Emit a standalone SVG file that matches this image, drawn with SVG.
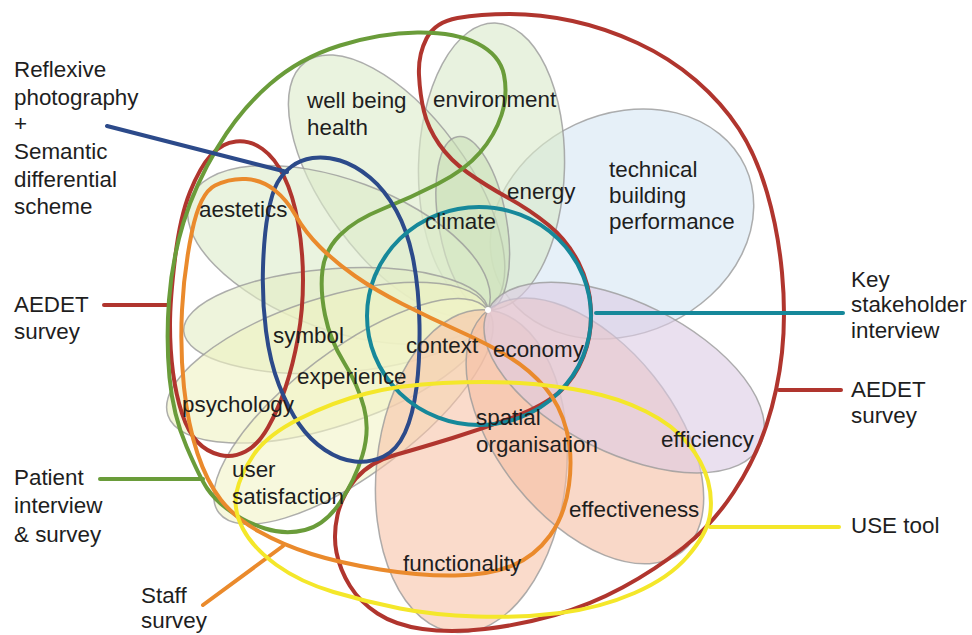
<svg xmlns="http://www.w3.org/2000/svg" width="972" height="635" viewBox="0 0 972 635">
<style>
.petal{stroke:#9a9a9a;stroke-width:1.5;stroke-opacity:0.8;fill-opacity:0.6}
.lbl{font-family:"Liberation Sans",Arial,sans-serif;font-size:22.4px;fill:#1e1e1e}
.loop{fill:none;stroke-width:4;stroke-linejoin:round;stroke-linecap:round}
.red{stroke:#b0352e}
.green{stroke:#6a9c3a}
.blue{stroke:#2c4a8a}
.teal{stroke:#16889a}
.orange{stroke:#ea8a2c}
.yellow{stroke:#f4e72a}
</style>
<rect width="972" height="635" fill="#ffffff"/>
<g id="petals">
  <g id="petal-technical"><ellipse class="petal" cx="0" cy="0" rx="136" ry="110" fill="#d6e6f4" transform="translate(622,224) rotate(-25)"/></g>
  <g id="petal-environment"><ellipse class="petal" cx="143.5" cy="0" rx="143.5" ry="73" fill="#d9e9ca" transform="translate(488,310) rotate(-88.6)"/></g>
  <g id="petal-wellbeing"><ellipse class="petal" cx="154" cy="0" rx="154" ry="72" fill="#dcebca" transform="translate(488,310) rotate(-126.4)"/></g>
  <g id="petal-climate"><ellipse class="petal" cx="88" cy="0" rx="88" ry="34" fill="#c9e0b8" transform="translate(488,310) rotate(-100)"/></g>
  <g id="petal-aestetics"><ellipse class="petal" cx="159" cy="0" rx="159" ry="75" fill="#dcebca" transform="translate(488,310) rotate(-159.7)"/></g>
  <g id="petal-symbol"><ellipse class="petal" cx="152.5" cy="0" rx="152.5" ry="52" fill="#e2ecc4" transform="translate(488,310) rotate(176)"/></g>
  <g id="petal-psychology"><ellipse class="petal" cx="168.5" cy="0" rx="168.5" ry="64" fill="#eef2c2" transform="translate(488,310) rotate(161.8)"/></g>
  <g id="petal-usersatisfaction"><ellipse class="petal" cx="168.5" cy="0" rx="168.5" ry="62" fill="#f2f4c6" transform="translate(488,310) rotate(143)"/></g>
  <g id="petal-functionality"><ellipse class="petal" cx="162" cy="0" rx="162" ry="95" fill="#f7c3a8" transform="translate(488,310) rotate(95.9)"/></g>
  <g id="petal-effectiveness"><ellipse class="petal" cx="155" cy="0" rx="155" ry="88" fill="#f5bea4" transform="translate(488,310) rotate(51.3)"/></g>
  <g id="petal-efficiency"><ellipse class="petal" cx="152" cy="0" rx="152" ry="75" fill="#dccbe4" transform="translate(488,310) rotate(26.4)"/></g>
  <circle cx="488" cy="310" r="3" fill="#ffffff"/>
</g>
<g id="connectors">
  <g id="loop-red-outer">
    <path class="loop red" d="M424,111.5 Q420,95 419,75 Q418,55 426.5,38.5 Q435,22 457.5,18 Q480,14 510,14 Q540,14 572.5,21 Q605,28 637.5,43 Q670,58 696,80.5 Q722,103 739,129 Q756,155 767,192.5 Q778,230 782,272.5 Q786,315 782,352.5 Q778,390 766.5,425 Q755,460 733.5,492.5 Q712,525 683.5,547.5 Q655,570 622.5,587.5 Q590,605 555,615 Q520,625 485,629 Q450,633 422.5,629 Q395,625 377.5,613.5 Q360,602 350,586 Q340,570 336.5,552.5 Q333,535 337.5,515 Q342,495 356,478.5 Q370,462 395,455 Q420,448 452.5,438 Q485,428 515,416.5 Q545,405 560,391.5 Q575,378 583.5,356.5 Q592,335 591,310 Q590,285 578.5,262.5 Q567,240 548.5,225 Q530,210 507.5,197.5 Q485,185 467.5,172.5 Q450,160 439,144 Q428,128 424,111.5 Z"/>
    <line class="loop red" x1="779" y1="390" x2="841" y2="390"/>
  </g>
  <g id="loop-red-left">
    <path class="loop red" d="M170,325 Q170,300 175,258.5 Q180,217 190,192 Q200,167 211,155 Q222,143 236,141.5 Q250,140 262.5,149 Q275,158 284,176.5 Q293,195 298,222.5 Q303,250 303,280 Q303,310 298,337.5 Q293,365 285.5,387.5 Q278,410 268,427.5 Q258,445 245.5,451.5 Q233,458 220,455 Q207,452 197.5,442 Q188,432 182,413.5 Q176,395 173,372.5 Q170,350 170,325 Z"/>
    <line class="loop red" x1="104" y1="305" x2="170" y2="305"/>
  </g>
  <g id="loop-green">
    <path class="loop green" d="M207.5,489 Q200,478 186.5,446.5 Q173,415 169.5,377.5 Q166,340 169,300 Q172,260 183.5,222.5 Q195,185 217.5,147.5 Q240,110 270,84 Q300,58 340,45.5 Q380,33 417.5,32.5 Q455,32 477.5,43.5 Q500,55 504,75 Q508,95 501.5,115 Q495,135 480,152.5 Q465,170 437.5,184 Q410,198 382.5,209 Q355,220 340,235 Q325,250 322.5,270 Q320,290 325,315 Q330,340 344,362.5 Q358,385 364,407.5 Q370,430 362.5,455 Q355,480 340,502.5 Q325,525 305,530 Q285,535 265,528.5 Q245,522 230,511 Q215,500 207.5,489 Z"/>
    <line class="loop green" x1="100" y1="479" x2="203" y2="479"/>
  </g>
  <g id="loop-blue">
    <path class="loop blue" d="M277.5,182.5 Q283,173 291.5,166.5 Q300,160 312.5,158 Q325,156 340,160.5 Q355,165 370,177.5 Q385,190 396.5,211 Q408,232 413.5,261 Q419,290 419.5,325 Q420,360 416.5,387.5 Q413,415 405,432.5 Q397,450 383.5,456.5 Q370,463 355,461.5 Q340,460 325,450 Q310,440 299,424 Q288,408 279,385 Q270,362 266,331 Q262,300 263,267.5 Q264,235 268,213.5 Q272,192 277.5,182.5 Z"/>
    <line class="loop blue" x1="107" y1="126" x2="287" y2="172"/>
  </g>
  <g id="loop-teal">
    <ellipse class="loop teal" cx="479" cy="316" rx="112" ry="109"/>
    <line class="loop teal" x1="596" y1="313" x2="843" y2="313"/>
  </g>
  <g id="loop-orange">
    <path class="loop orange" d="M192,231.5 Q200,193 215,185.5 Q230,178 246,179 Q262,180 274.5,190 Q287,200 296,216 Q305,232 320,247 Q335,262 355,276 Q375,290 402.5,304 Q430,318 460,331.5 Q490,345 510,357.5 Q530,370 545,387.5 Q560,405 566.5,430 Q573,455 569,485 Q565,515 550,535.5 Q535,556 512.5,565.5 Q490,575 455,575.5 Q420,576 380,569.5 Q340,563 311.5,554 Q283,545 259,531.5 Q235,518 221,500 Q207,482 197.5,453.5 Q188,425 184,387.5 Q180,350 182,310 Q184,270 192,231.5 Z"/>
    <line class="loop orange" x1="203" y1="605" x2="283" y2="546"/>
  </g>
  <g id="loop-yellow">
    <path class="loop yellow" d="M236.5,492.5 Q240,475 253.5,455 Q267,435 300,418.5 Q333,402 366.5,393.5 Q400,385 443,383 Q486,381 519.5,383 Q553,385 586,391.5 Q619,398 646,411.5 Q673,425 688,443.5 Q703,462 708,481 Q713,500 709.5,517.5 Q706,535 687.5,556.5 Q669,578 634.5,593 Q600,608 560,613 Q520,618 476.5,616.5 Q433,615 400,608.5 Q367,602 333.5,592 Q300,582 276.5,565 Q253,548 243,529 Q233,510 236.5,492.5 Z"/>
    <line class="loop yellow" x1="710" y1="527" x2="839" y2="527"/>
  </g>
</g>
<g id="inner-labels" class="lbl">
  <text x="307" y="108">well being</text>
  <text x="307" y="135">health</text>
  <text x="433" y="107">environment</text>
  <text x="609" y="177">technical</text>
  <text x="609" y="203">building</text>
  <text x="609" y="229">performance</text>
  <text x="507" y="199">energy</text>
  <text x="425" y="229">climate</text>
  <text x="199" y="217">aestetics</text>
  <text x="273" y="343">symbol</text>
  <text x="406" y="353">context</text>
  <text x="493" y="357">economy</text>
  <text x="297" y="384">experience</text>
  <text x="182" y="412">psychology</text>
  <text x="476" y="425">spatial</text>
  <text x="476" y="452">organisation</text>
  <text x="661" y="447">efficiency</text>
  <text x="232" y="477">user</text>
  <text x="232" y="504">satisfaction</text>
  <text x="569" y="517">effectiveness</text>
  <text x="403" y="571">functionality</text>
</g>
<g id="method-labels" class="lbl">
  <g id="label-reflexive">
    <text x="14" y="77">Reflexive</text>
    <text x="14" y="105">photography</text>
    <text x="14" y="131">+</text>
    <text x="14" y="159">Semantic</text>
    <text x="14" y="187">differential</text>
    <text x="14" y="214">scheme</text>
  </g>
  <g id="label-aedet-left"><text x="14" y="312">AEDET</text><text x="14" y="339">survey</text></g>
  <g id="label-patient"><text x="14" y="485">Patient</text><text x="14" y="513">interview</text><text x="14" y="542">&amp; survey</text></g>
  <g id="label-staff"><text x="141" y="603">Staff</text><text x="141" y="628">survey</text></g>
  <g id="label-key"><text x="851" y="287">Key</text><text x="851" y="312">stakeholder</text><text x="851" y="338">interview</text></g>
  <g id="label-aedet-right"><text x="851" y="397">AEDET</text><text x="851" y="423">survey</text></g>
  <g id="label-use"><text x="851" y="533">USE tool</text></g>
</g>
</svg>
